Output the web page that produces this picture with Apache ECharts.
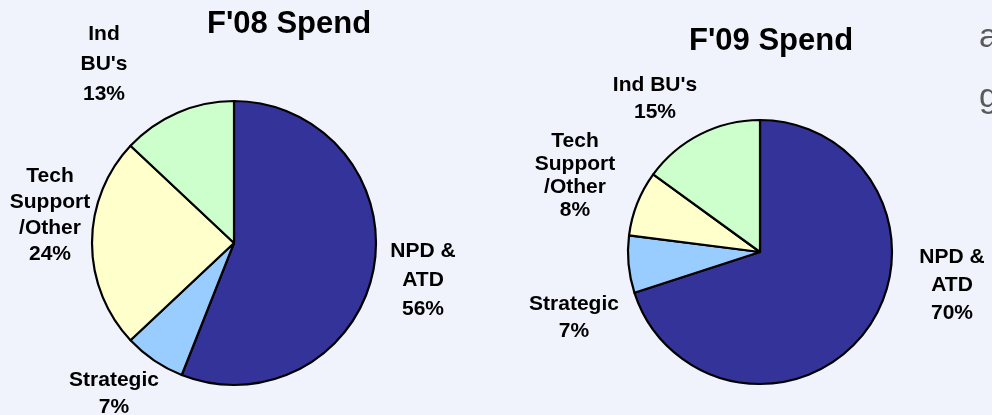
<!DOCTYPE html>
<html>
<head>
<meta charset="utf-8">
<script src="https://cdn.jsdelivr.net/npm/echarts@6/dist/echarts.min.js"></script>
<style>
  html, body { margin: 0; padding: 0; background: #f0f3fc; }
  #chart { width: 992px; height: 415px; }
</style>
</head>
<body>
<div id="chart"></div>
<script>
// spend shares
const categories08 = ['NPD &\nATD', 'Strategic', 'Tech\nSupport\n/Other', "Ind\nBU's"]
const spend08 = [56, 7, 24, 13]
const categories09 = ['NPD &\nATD', 'Strategic', 'Tech\nSupport\n/Other', "Ind BU's"]
const spend09 = [70, 7, 8, 15]
const sliceColors = ['#333399', '#99ccff', '#ffffcc', '#ccffcc']

// where each label block sits (center of block) and its line height
const labelSpots = [
  [[423, 280, 29], [114, 394, 27], [50, 215, 26], [104, 64, 30]],
  [[952, 285, 28], [574, 318, 27], [575, 176, 23], [655, 99, 27]]
]

const font = 'Liberation Sans, Arial, sans-serif'

function toData(names, values, idx) {
  return names.map((n, i) => ({
    name: n,
    value: values[i],
    itemStyle: {color: sliceColors[i]},
    label: {lineHeight: labelSpots[idx][i][2]}
  }))
}

function pieSeries(names, values, center, radius, idx) {
  return {
    type: 'pie',
    center: center,
    radius: radius,
    startAngle: 90,
    clockwise: true,
    animation: false,
    silent: true,
    itemStyle: {borderColor: '#000', borderWidth: 2.2},
    label: {
      show: true,
      formatter: p => p.name + '\n' + p.value + '%',
      fontFamily: font,
      fontWeight: 'bold',
      fontSize: 21,
      color: '#000',
      align: 'center',
      overflow: 'none'
    },
    labelLine: {show: false},
    labelLayout: p => ({
      x: labelSpots[idx][p.dataIndex][0],
      y: labelSpots[idx][p.dataIndex][1],
      align: 'center',
      verticalAlign: 'middle'
    }),
    data: toData(names, values, idx)
  }
}

const chart = echarts.init(document.getElementById('chart'))
chart.setOption({
  backgroundColor: '#f0f3fc',
  title: [
    {text: "F'08 Spend", left: 202, top: 4,
      textStyle: {fontFamily: font, fontWeight: 'bold', fontSize: 31, color: '#000'}},
    {text: "F'09 Spend", left: 684, top: 21,
      textStyle: {fontFamily: font, fontWeight: 'bold', fontSize: 31, color: '#000'}}
  ],
  graphic: [
    {type: 'text', left: 979, top: 21,
      style: {text: 'a', font: '34px ' + font, fill: '#595959'}},
    {type: 'text', left: 979, top: 81,
      style: {text: 'g', font: '34px ' + font, fill: '#595959'}}
  ],
  series: [
    pieSeries(categories08, spend08, [234, 243], 142, 0),
    pieSeries(categories09, spend09, [760, 252], 132, 1)
  ]
})
</script>
</body>
</html>
